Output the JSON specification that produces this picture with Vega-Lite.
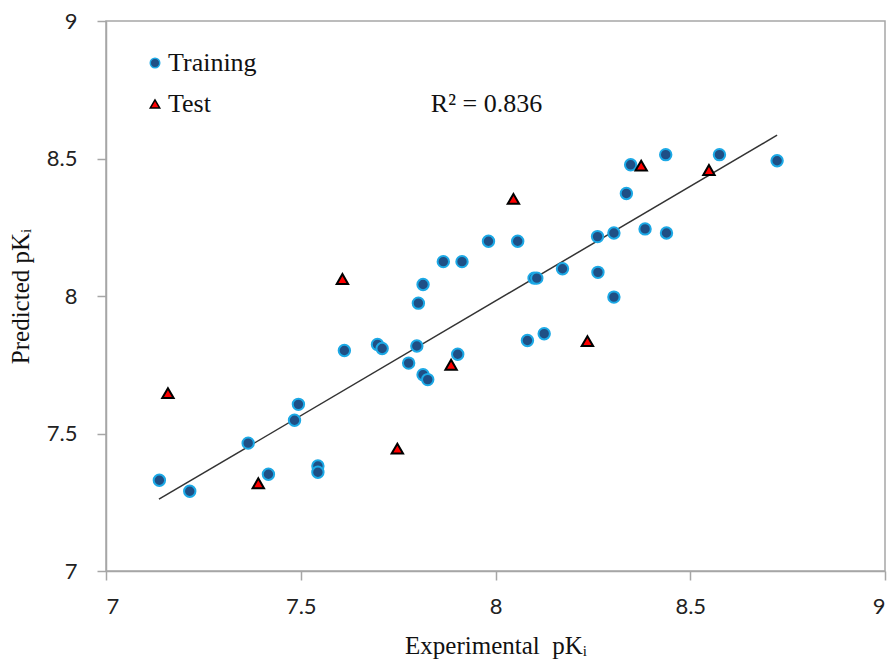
{
  "$schema": "https://vega.github.io/schema/vega-lite/v6.json",
  "width": 779,
  "height": 550,
  "autosize": {"type": "none"},
  "padding": {"left": 106, "top": 21, "right": 11, "bottom": 91},
  "background": "white",
  "datasets": {
    "points": [
      {"set": "Training", "exp": 7.137, "pred": 7.330},
      {"set": "Training", "exp": 7.215, "pred": 7.290},
      {"set": "Training", "exp": 7.365, "pred": 7.465},
      {"set": "Training", "exp": 7.417, "pred": 7.352},
      {"set": "Training", "exp": 7.484, "pred": 7.548},
      {"set": "Training", "exp": 7.494, "pred": 7.606},
      {"set": "Training", "exp": 7.544, "pred": 7.382},
      {"set": "Training", "exp": 7.544, "pred": 7.359},
      {"set": "Training", "exp": 7.612, "pred": 7.802},
      {"set": "Training", "exp": 7.697, "pred": 7.824},
      {"set": "Training", "exp": 7.709, "pred": 7.809},
      {"set": "Training", "exp": 7.777, "pred": 7.756},
      {"set": "Training", "exp": 7.798, "pred": 7.818},
      {"set": "Training", "exp": 7.814, "pred": 7.714},
      {"set": "Training", "exp": 7.826, "pred": 7.696},
      {"set": "Training", "exp": 7.802, "pred": 7.974},
      {"set": "Training", "exp": 7.814, "pred": 8.042},
      {"set": "Training", "exp": 7.866, "pred": 8.125},
      {"set": "Training", "exp": 7.914, "pred": 8.125},
      {"set": "Training", "exp": 7.903, "pred": 7.788},
      {"set": "Training", "exp": 7.982, "pred": 8.199},
      {"set": "Training", "exp": 8.057, "pred": 8.199},
      {"set": "Training", "exp": 8.082, "pred": 7.838},
      {"set": "Training", "exp": 8.125, "pred": 7.863},
      {"set": "Training", "exp": 8.099, "pred": 8.065},
      {"set": "Training", "exp": 8.106, "pred": 8.065},
      {"set": "Training", "exp": 8.172, "pred": 8.099},
      {"set": "Training", "exp": 8.262, "pred": 8.216},
      {"set": "Training", "exp": 8.263, "pred": 8.086},
      {"set": "Training", "exp": 8.304, "pred": 7.996},
      {"set": "Training", "exp": 8.304, "pred": 8.229},
      {"set": "Training", "exp": 8.336, "pred": 8.373},
      {"set": "Training", "exp": 8.347, "pred": 8.477},
      {"set": "Training", "exp": 8.384, "pred": 8.244},
      {"set": "Training", "exp": 8.439, "pred": 8.229},
      {"set": "Training", "exp": 8.437, "pred": 8.514},
      {"set": "Training", "exp": 8.575, "pred": 8.514},
      {"set": "Training", "exp": 8.723, "pred": 8.492},
      {"set": "Test", "exp": 7.159, "pred": 7.647},
      {"set": "Test", "exp": 7.391, "pred": 7.319},
      {"set": "Test", "exp": 7.607, "pred": 8.062},
      {"set": "Test", "exp": 7.748, "pred": 7.445},
      {"set": "Test", "exp": 7.886, "pred": 7.750},
      {"set": "Test", "exp": 8.046, "pred": 8.353},
      {"set": "Test", "exp": 8.236, "pred": 7.836},
      {"set": "Test", "exp": 8.374, "pred": 8.474},
      {"set": "Test", "exp": 8.548, "pred": 8.458}
    ],
    "fit": [
      {"exp": 7.136, "pred": 7.261},
      {"exp": 8.723, "pred": 8.585}
    ],
    "note": [
      {"exp": 7.834, "pred": 8.698, "label": "R² = 0.836"}
    ]
  },
  "config": {
    "view": {"stroke": "#A6A6A6", "strokeWidth": 1.5},
    "axis": {
      "grid": false,
      "domainColor": "#A6A6A6",
      "domainWidth": 1.5,
      "tickColor": "#A6A6A6",
      "tickWidth": 1.5,
      "tickSize": 9,
      "labelFont": "Lato",
      "labelFontSize": 22,
      "labelColor": "#222222",
      "titleFont": "Liberation Serif",
      "titleFontSize": 25,
      "titleFontWeight": "normal",
      "titleColor": "#111111"
    },
    "legend": {
      "orient": "none",
      "legendX": 36,
      "legendY": 29,
      "labelFont": "Liberation Serif",
      "labelFontSize": 26,
      "labelColor": "#111111",
      "symbolSize": 90,
      "symbolStrokeWidth": 1.5,
      "labelOffset": 0,
      "rowPadding": 15,
      "padding": 0
    }
  },
  "layer": [
    {
      "data": {"name": "fit"},
      "mark": {"type": "line", "color": "#333333", "strokeWidth": 1.5},
      "encoding": {
        "x": {"field": "exp", "type": "quantitative"},
        "y": {"field": "pred", "type": "quantitative"}
      }
    },
    {
      "data": {"name": "points"},
      "mark": {"type": "point", "filled": true, "opacity": 1, "strokeWidth": 2, "size": 130},
      "encoding": {
        "x": {
          "field": "exp", "type": "quantitative",
          "scale": {"domain": [7, 9], "nice": false, "zero": false},
          "axis": {"values": [7, 7.5, 8, 8.5, 9], "format": "~g", "title": "Experimental\u00a0\u00a0pKᵢ", "labelPadding": 16, "titlePadding": 16}
        },
        "y": {
          "field": "pred", "type": "quantitative",
          "scale": {"domain": [7, 9], "nice": false, "zero": false},
          "axis": {"values": [7, 7.5, 8, 8.5, 9], "format": "~g", "title": "Predicted pKᵢ", "labelPadding": 20, "titlePadding": 13}
        },
        "shape": {
          "field": "set", "type": "nominal",
          "scale": {"domain": ["Training", "Test"], "range": ["circle", "triangle-up"]},
          "legend": {"title": null}
        },
        "fill": {
          "field": "set", "type": "nominal",
          "scale": {"domain": ["Training", "Test"], "range": ["#1F4F85", "#FF0000"]},
          "legend": {"title": null}
        },
        "stroke": {
          "field": "set", "type": "nominal",
          "scale": {"domain": ["Training", "Test"], "range": ["#1CA9E6", "#000000"]},
          "legend": {"title": null}
        }
      }
    },
    {
      "data": {"name": "note"},
      "mark": {"type": "text", "align": "left", "baseline": "middle", "font": "Liberation Serif", "fontSize": 26, "color": "#111111"},
      "encoding": {
        "x": {"field": "exp", "type": "quantitative"},
        "y": {"field": "pred", "type": "quantitative"},
        "text": {"field": "label"}
      }
    }
  ]
}
